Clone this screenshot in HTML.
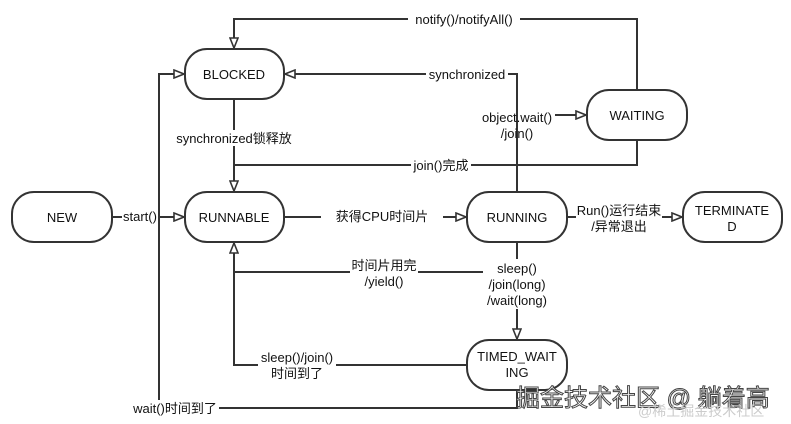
<!DOCTYPE html>
<html><head><meta charset="utf-8"><style>
html,body{margin:0;padding:0;background:#fff;}
svg{display:block;}
text{font-family:"Liberation Sans","Noto Sans CJK SC",sans-serif;font-size:13px;fill:#111;}
</style></head><body>
<svg width="791" height="424" viewBox="0 0 791 424" xmlns="http://www.w3.org/2000/svg">
<defs>
<marker id="a" markerWidth="12" markerHeight="10" refX="11" refY="5" orient="auto" markerUnits="userSpaceOnUse">
<path d="M1,1 L11,5 L1,9 Z" fill="#fff" stroke="#333" stroke-width="1.6"/>
</marker>
</defs>
<g fill="none" stroke="#333" stroke-width="2">
<path d="M637,90 V19 H234 V48" marker-end="url(#a)"/>
<path d="M517,192 V74 H285" marker-end="url(#a)"/>
<path d="M555,115 H586" marker-end="url(#a)"/>
<path d="M637,140 V165 H234"/>
<path d="M234,99 V191" marker-end="url(#a)"/>
<path d="M112,217 H184" marker-end="url(#a)"/>
<path d="M284,217 H466" marker-end="url(#a)"/>
<path d="M567,217 H682" marker-end="url(#a)"/>
<path d="M517,242 V339" marker-end="url(#a)"/>
<path d="M483,272 H234 V243" marker-end="url(#a)"/>
<path d="M467,365 H234 V272"/>
<path d="M517,390 V408 H159 V74 H184" marker-end="url(#a)"/>
</g>
<g fill="#fff">
<rect x="408" y="11" width="112" height="16"/>
<rect x="426" y="66" width="82" height="16"/>
<rect x="411" y="157" width="60" height="16"/>
<rect x="172" y="130" width="124" height="16"/>
<rect x="122" y="209" width="36" height="16"/>
<rect x="321" y="209" width="122" height="16"/>
<rect x="576" y="202" width="86" height="32"/>
<rect x="484" y="259" width="66" height="50"/>
<rect x="350" y="257" width="68" height="32"/>
<rect x="258" y="349" width="78" height="32"/>
<rect x="132" y="400" width="87" height="17"/>
</g>
<g fill="#fff" stroke="#333" stroke-width="2">
<rect x="185" y="49" width="99" height="50" rx="22"/>
<rect x="12" y="192" width="100" height="50" rx="22"/>
<rect x="185" y="192" width="99" height="50" rx="22"/>
<rect x="467" y="192" width="100" height="50" rx="22"/>
<rect x="683" y="192" width="99" height="50" rx="22"/>
<rect x="587" y="90" width="100" height="50" rx="22"/>
<rect x="467" y="340" width="100" height="50" rx="22"/>
</g>
<g text-anchor="middle">
<text x="234" y="79">BLOCKED</text>
<text x="62" y="222">NEW</text>
<text x="234" y="222">RUNNABLE</text>
<text x="517" y="222">RUNNING</text>
<text x="732" y="215">TERMINATE</text>
<text x="732" y="231">D</text>
<text x="637" y="120">WAITING</text>
<text x="517" y="361">TIMED_WAIT</text>
<text x="517" y="377">ING</text>

<text x="464" y="24">notify()/notifyAll()</text>
<text x="467" y="79">synchronized</text>
<text x="517" y="122">object.wait()</text>
<text x="517" y="138">/join()</text>
<text x="441" y="170">join()完成</text>
<text x="234" y="143">synchronized锁释放</text>
<text x="140" y="221">start()</text>
<text x="382" y="221">获得CPU时间片</text>
<text x="619" y="215">Run()运行结束</text>
<text x="619" y="231">/异常退出</text>
<text x="517" y="273">sleep()</text>
<text x="517" y="289">/join(long)</text>
<text x="517" y="305">/wait(long)</text>
<text x="384" y="270">时间片用完</text>
<text x="384" y="286">/yield()</text>
<text x="297" y="362">sleep()/join()</text>
<text x="297" y="378">时间到了</text>
<text x="175" y="413">wait()时间到了</text>
</g>
<text x="516" y="406" style="font-size:24px;fill:#fff;stroke:#444;stroke-width:1">掘金技术社区 @ 躺着高</text>
<text x="638" y="416" style="font-size:14px;fill:#ccc;">@稀土掘金技术社区</text>
</svg>
</body></html>
